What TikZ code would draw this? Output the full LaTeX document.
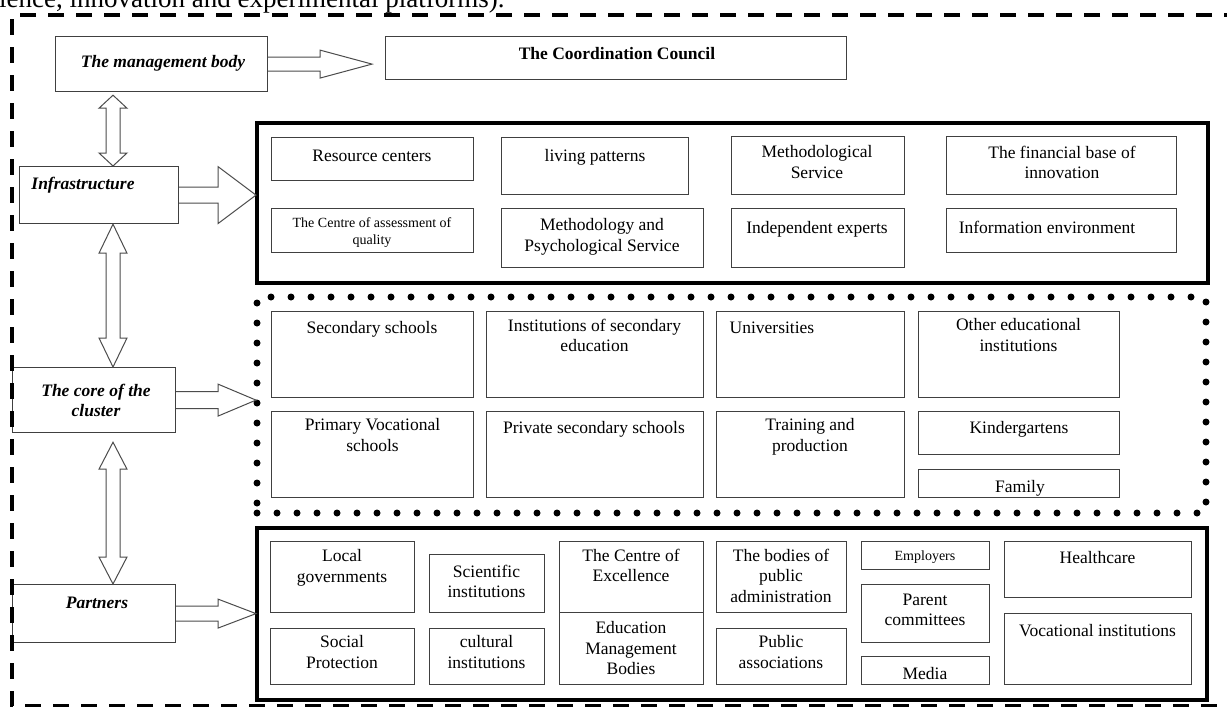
\documentclass[tikz,border=0pt]{standalone}
\usepackage{fontspec}
\setmainfont{Liberation Serif}
\usetikzlibrary{calc}
\tikzset{
 bx/.style={draw=black!75, line width=1.2pt, inner sep=0pt, anchor=north west},
 cont/.style={draw=black, line width=3.5pt, inner sep=0pt, anchor=north west, outer sep=1pt},
 dotc/.style={draw=black, line width=7pt, dash pattern=on 0pt off 20pt, line cap=round, inner sep=0pt, anchor=north west, outer sep=1pt},
 tl/.style={anchor=north, yshift=8.5pt, inner sep=0pt, align=center, font=\fontsize{17.5}{20.5}\selectfont, execute at begin node=\strut},
 sm/.style={tl, yshift=-1.2pt, font=\fontsize{14}{17}\selectfont},
 lab/.style={tl, font=\fontsize{17.5}{20.5}\selectfont\bfseries\itshape},
 ttl/.style={tl, font=\fontsize{17.5}{20.5}\selectfont\bfseries},
 barrow/.style={draw=black!70, line width=1pt, fill=white, line join=miter},
 frame/.style={line width=4pt, dash pattern=on 16pt off 12pt},
}
\newcommand\bx[5]{\node[bx, minimum width={(#4)-(#2)}, minimum height={(#5)-(#3)}] (#1) at (#2,#3) {};}
\newcommand\tx[5][tl]{\node[#1] (#2) at (#3,#4) {#5};}
\newcommand\rarr[5]{\draw[barrow] let \p1=(#1.east), \p2=(#2) in (\x1,\y1+#4) -- (\x2-#3,\y1+#4) -- (\x2-#3,\y1+#5) -- (\x2,\y1) -- (\x2-#3,\y1-#5) -- (\x2-#3,\y1-#4) -- (\x1,\y1-#4);}
\newcommand\vdarr[4]{\draw[barrow] let \p1=(#1.south), \p2=(#2.north) in (113pt,\y1-#3) -- (127pt,\y1-#3-#4) -- (120pt,\y1-#3-#4) -- (120pt,\y2+#4) -- (127pt,\y2+#4) -- (113pt,\y2) -- (99pt,\y2+#4) -- (106pt,\y2+#4) -- (106pt,\y1-#3-#4) -- (99pt,\y1-#3-#4) -- cycle;}
\begin{document}
\begin{tikzpicture}[x=1pt,y=-1pt]
\useasboundingbox (0,0) rectangle (1227,707);
\fill[white] (0,0) rectangle (1227,707);
\node[anchor=base west, inner sep=0pt, font=\fontsize{27}{30}\selectfont] (head) at (-1,7) {ience, innovation and experimental platforms).};

% containers
\node[cont, minimum width=951, minimum height=160] (infraC) at (256,122) {};
\node[dotc, minimum width=949, minimum height=216] (coreC) at (256,296) {};
\node[cont, minimum width=950, minimum height=172] (partC) at (256,527) {};

% left column
\bx{mgmt}{55}{36}{267}{91}   \tx[lab]{mgmt-t}{163}{61}{The management body}
\bx{infr}{19}{166}{178}{223} \tx[lab]{infr-t}{83}{183}{Infrastructure}
\bx{core}{12}{367}{175}{432} \tx[lab]{core-t}{96}{392}{The core of the\\cluster}
\bx{part}{12}{584}{175}{642} \tx[lab]{part-t}{97}{602}{Partners}

% council
\bx{council}{385}{36}{846}{79} \tx[ttl]{council-t}{617}{53}{The Coordination Council}
\coordinate (ctip) at (372,64);

% infrastructure
\bx{rc}{271}{137}{473}{180}  \tx{rc-t}{372}{155}{Resource centers}
\bx{lp}{501}{137}{688}{194}  \tx{lp-t}{595}{155}{living patterns}
\bx{ms}{731}{136}{904}{194}  \tx{ms-t}{817}{154}{Methodological\\Service}
\bx{fb}{946}{136}{1176}{194} \tx{fb-t}{1062}{154}{The financial base of\\innovation}
\bx{ca}{271}{208}{473}{252}  \tx[sm]{ca-t}{372}{225}{The Centre of assessment of\\quality}
\bx{mp}{501}{208}{703}{267}  \tx{mp-t}{602}{227}{Methodology and\\Psychological Service}
\bx{ie}{731}{208}{904}{267}  \tx{ie-t}{817}{227}{Independent experts}
\bx{inf}{946}{208}{1176}{252} \tx{inf-t}{1047}{227}{Information environment}

% core
\bx{ss}{271}{311}{473}{397}  \tx{ss-t}{372}{327}{Secondary schools}
\bx{ise}{486}{311}{703}{397} \tx{ise-t}{594.5}{327}{Institutions of secondary\\education}
\bx{uni}{716}{311}{904}{397} \tx{uni-t}{772}{327}{Universities}
\bx{oei}{918}{311}{1119}{397} \tx{oei-t}{1018.5}{327}{Other educational\\institutions}
\bx{pvs}{271}{411}{473}{497} \tx{pvs-t}{372.5}{427}{Primary Vocational\\schools}
\bx{pss}{486}{411}{703}{497} \tx{pss-t}{594}{427}{Private secondary schools}
\bx{tp}{716}{411}{904}{497}  \tx{tp-t}{810}{427}{Training and\\production}
\bx{kg}{918}{411}{1119}{454} \tx{kg-t}{1019}{427}{Kindergartens}
\bx{fam}{918}{469}{1119}{497} \tx{fam-t}{1020}{486}{Family}

% partners
\bx{lg}{270}{541}{414}{612}  \tx{lg-t}{342}{558}{Local\\governments}
\bx{spr}{270}{628}{414}{684} \tx{spr-t}{342}{644}{Social\\Protection}
\bx{si}{429}{554}{544}{612}  \tx{si-t}{486.5}{573}{Scientific\\institutions}
\bx{ci}{429}{628}{544}{684}  \tx{ci-t}{486.5}{644}{cultural\\institutions}
\bx{ce}{559}{541}{703}{612}  \tx{ce-t}{631}{557}{The Centre of\\Excellence}
\bx{emb}{559}{612}{703}{684} \tx{emb-t}{631}{630}{Education\\Management\\Bodies}
\bx{bpa}{716}{541}{846}{612} \tx{bpa-t}{781}{557}{The bodies of\\public\\administration}
\bx{pa}{716}{628}{846}{684}  \tx{pa-t}{781}{644}{Public\\associations}
\bx{emp}{861}{541}{989}{569} \tx[sm]{emp-t}{925}{556}{Employers}
\bx{pc}{861}{584}{989}{642}  \tx{pc-t}{925}{602}{Parent\\committees}
\bx{med}{861}{656}{989}{684} \tx{med-t}{925}{673}{Media}
\bx{hc}{1004}{541}{1191}{597} \tx{hc-t}{1097.5}{557}{Healthcare}
\bx{vi}{1004}{613}{1191}{684} \tx{vi-t}{1097.5}{630}{Vocational institutions}

% block arrows
\rarr{mgmt}{ctip}{52pt}{7pt}{14pt}
\rarr{infr}{infraC.west}{38pt}{8pt}{28.5pt}
\rarr{core}{coreC.west}{38pt}{8.5pt}{16pt}
\rarr{part}{partC.west}{38pt}{7.5pt}{14.5pt}
\vdarr{mgmt}{infr}{3pt}{13pt}
\vdarr{infr}{core}{0pt}{29pt}
\vdarr{core}{part}{9pt}{27pt}

% outer dashed frame
\draw[frame] (1240,15) -- (12,15) -- (12,706) -- (1240,706);
\end{tikzpicture}
\end{document}
